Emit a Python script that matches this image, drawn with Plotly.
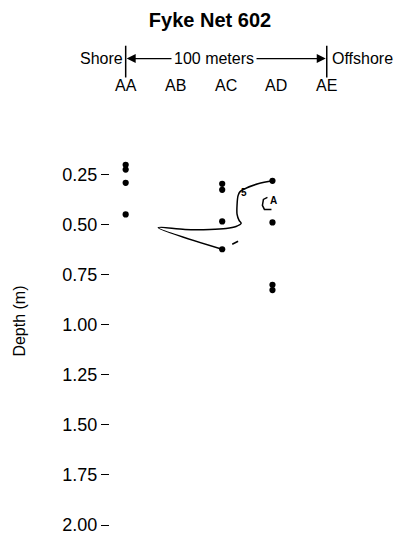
import plotly.graph_objects as go

# Transect stations (distance from shore, m)
stations = ["AA", "AB", "AC", "AD", "AE"]
station_dist = [0, 25, 50, 75, 100]

# Sampled depths at each station
aa_x = [0, 0, 0, 0]
aa_depth = [0.20, 0.224, 0.29, 0.448]
ac_x = [48, 48, 48, 48]
ac_depth = [0.295, 0.325, 0.483, 0.622]
ad_x = [73, 73, 73, 73]
ad_depth = [0.28, 0.488, 0.80, 0.826]

# Hand-traced outline
outline_x = [73.3, 65.8, 59.4, 56.9, 55.9, 55.4, 55.4, 56.4, 57.4, 54.9, 49.9, 41.9, 29.5, 16.2, 47.9]
outline_depth = [0.28, 0.295, 0.319, 0.334, 0.354, 0.399, 0.448, 0.478, 0.493, 0.508, 0.518, 0.523, 0.523, 0.514, 0.622]
dash_x = [53.0, 55.9]
dash_depth = [0.597, 0.582]
bracket_x = [70.5, 68.5, 68.0, 69.0, 72.5]
bracket_depth = [0.363, 0.373, 0.403, 0.423, 0.423]

depth_ticks = [0.25, 0.50, 0.75, 1.00, 1.25, 1.50, 1.75, 2.00]
depth_labels = ["0.25", "0.50", "0.75", "1.00", "1.25", "1.50", "1.75", "2.00"]

FONT = "Liberation Sans, Arial, Helvetica, sans-serif"
W, H = 420, 542
M_T, M_B, M_L, M_R = 140, 7, 110, 10
PLOT_H = H - M_T - M_B
PLOT_W = W - M_L - M_R


def py(pixel_y):
    """Paper y coordinate for a pixel row measured from the top of the page."""
    return (H - M_B - pixel_y) / PLOT_H


def px(pixel_x):
    """Paper x coordinate for a pixel column measured from the left of the page."""
    return (pixel_x - M_L) / PLOT_W


fig = go.Figure()

line_style = dict(color="black", width=1.5)
fig.add_trace(go.Scatter(x=outline_x, y=outline_depth, mode="lines", line=line_style,
                         line_shape="spline", hoverinfo="skip"))
fig.add_trace(go.Scatter(x=dash_x, y=dash_depth, mode="lines", line=line_style, hoverinfo="skip"))
fig.add_trace(go.Scatter(x=bracket_x, y=bracket_depth, mode="lines", line=line_style, hoverinfo="skip"))

for xs, ds in [(aa_x, aa_depth), (ac_x, ac_depth), (ad_x, ad_depth)]:
    fig.add_trace(go.Scatter(x=xs, y=ds, mode="markers",
                             marker=dict(color="black", size=6.2), hoverinfo="skip"))

# small hand-written marks beside the outline
fig.add_annotation(x=59.0, y=0.338, text="<b>5</b>", showarrow=False, xref="x", yref="y",
                   font=dict(family=FONT, size=10, color="black"))
fig.add_annotation(x=73.6, y=0.38, text="<b>A</b>", showarrow=False, xref="x", yref="y",
                   font=dict(family=FONT, size=10, color="black"))

# header: shore-to-offshore scale bar
HDR = 16
bar_top, bar_bot, arrow_row, label_row = 45, 77, 58, 85
for d in (station_dist[0], station_dist[-1]):
    fig.add_shape(type="line", xref="x", yref="paper", x0=d, x1=d,
                  y0=py(bar_bot), y1=py(bar_top), line=dict(color="black", width=1.5))

mid = 44
for head in (station_dist[0], station_dist[-1]):
    fig.add_annotation(x=head, y=py(arrow_row), ax=mid, ay=0, xref="x", yref="paper",
                       axref="x", text="", showarrow=True, arrowhead=2, arrowsize=1.5,
                       arrowwidth=1.2, arrowcolor="black", standoff=1)

fig.add_annotation(x=mid, y=py(arrow_row), xref="x", yref="paper", yanchor="middle",
                   text="100 meters", showarrow=False, bgcolor="white", borderpad=2,
                   font=dict(family=FONT, size=HDR, color="black"))
fig.add_annotation(x=station_dist[0], y=py(arrow_row), xref="x", yref="paper", yanchor="middle",
                   text="Shore", showarrow=False, xanchor="right", xshift=-1,
                   font=dict(family=FONT, size=HDR, color="black"))
fig.add_annotation(x=station_dist[-1], y=py(arrow_row), xref="x", yref="paper", yanchor="middle",
                   text="Offshore", showarrow=False, xanchor="left", xshift=3,
                   font=dict(family=FONT, size=HDR, color="black"))

for name, d in zip(stations, station_dist):
    fig.add_annotation(x=d, y=py(label_row), xref="x", yref="paper", yanchor="middle",
                       text=name, showarrow=False,
                       font=dict(family=FONT, size=HDR, color="black"))

# vertical axis title
fig.add_annotation(x=px(20), y=py(323), xref="paper", yref="paper", xanchor="center",
                   yanchor="middle", text="Depth (m)", textangle=-90, showarrow=False,
                   font=dict(family=FONT, size=16, color="black"))

fig.update_layout(
    width=W, height=H,
    margin=dict(t=M_T, b=M_B, l=M_L, r=M_R),
    paper_bgcolor="white", plot_bgcolor="white",
    showlegend=False,
    title=dict(text="<b>Fyke Net 602</b>", x=0.5, xanchor="center", y=1 - 20 / H,
               yanchor="middle", font=dict(family=FONT, size=20, color="black")),
    font=dict(family=FONT, size=18, color="black"),
    xaxis=dict(range=[-7.8, 141.4], visible=False),
    yaxis=dict(range=[2.035, 0.076], tickvals=depth_ticks, ticktext=depth_labels,
               ticks="outside", ticklen=8, tickwidth=1.3, tickcolor="black",
               showline=False, showgrid=False, zeroline=False,
               tickfont=dict(family=FONT, size=18, color="black")),
)

fig.write_html("out.html")
